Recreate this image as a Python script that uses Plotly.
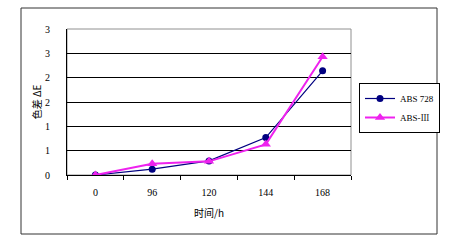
import plotly.graph_objects as go

hours = ["0", "96", "120", "144", "168"]
abs728 = [0.0, 0.12, 0.29, 0.77, 2.14]
abs3 = [0.0, 0.23, 0.28, 0.63, 2.43]
ytick_vals = [0, 0.5, 1.0, 1.5, 2.0, 2.5, 3.0]
ytick_text = ["0", "1", "1", "2", "2", "3", "3"]

W, H = 457, 246
L, R, T, B = 67, 351, 29, 175
pw, ph = R - L, B - T

def px(x):
    return (x - L) / pw

def py(y):
    return (B - y) / ph

font = dict(family="Liberation Serif, Noto Serif CJK SC, Noto Sans CJK SC", size=10, color="#000000")

fig = go.Figure()
fig.add_trace(go.Scatter(
    x=hours, y=abs728, name="ABS 728", mode="lines+markers",
    line=dict(color="#000080", width=1.2),
    marker=dict(symbol="circle", size=7, color="#000080"),
))
fig.add_trace(go.Scatter(
    x=hours, y=abs3, name="ABS-Ⅲ", mode="lines+markers",
    line=dict(color="#ee22ee", width=2),
    marker=dict(symbol="triangle-up", size=9, color="#ee22ee"),
))

fig.update_layout(
    width=W, height=H,
    margin=dict(l=L, r=W - R, t=T, b=H - B),
    paper_bgcolor="white", plot_bgcolor="white",
    font=font,
    showlegend=True,
    legend=dict(
        x=px(359), y=py(83), xanchor="left", yanchor="top",
        bordercolor="#000000", borderwidth=1, bgcolor="white",
        font=dict(size=9), tracegroupgap=0, itemwidth=30,
    ),
    shapes=[
        dict(type="rect", xref="paper", yref="paper",
             x0=px(21), x1=px(437), y0=py(234), y1=py(8),
             line=dict(color="#333333", width=1), layer="below"),
        dict(type="rect", xref="paper", yref="paper",
             x0=0, x1=1, y0=0, y1=1,
             line=dict(color="#909090", width=1), layer="below"),
    ],
)

fig.update_xaxes(
    type="category", range=[-0.5, 4.5],
    showline=True, linecolor="#000000", linewidth=1,
    ticks="outside", tickson="boundaries", ticklen=4, tickcolor="#000000",
    ticklabelstandoff=8,
    showgrid=False, zeroline=False,
    title=dict(text="时间/h", standoff=12, font=dict(size=10, family="Noto Sans CJK SC")),
    tickfont=dict(size=10),
)
fig.update_yaxes(
    range=[0, 3], tickvals=ytick_vals, ticktext=ytick_text,
    showline=True, linecolor="#000000", linewidth=1,
    showgrid=True, gridcolor="#000000", gridwidth=1,
    zeroline=False, ticks="", ticklabelstandoff=14,
    title=dict(text="色差 ΔE", standoff=1, font=dict(size=10, family="Noto Sans CJK SC")),
    tickfont=dict(size=10),
)

fig.write_html("out.html")
